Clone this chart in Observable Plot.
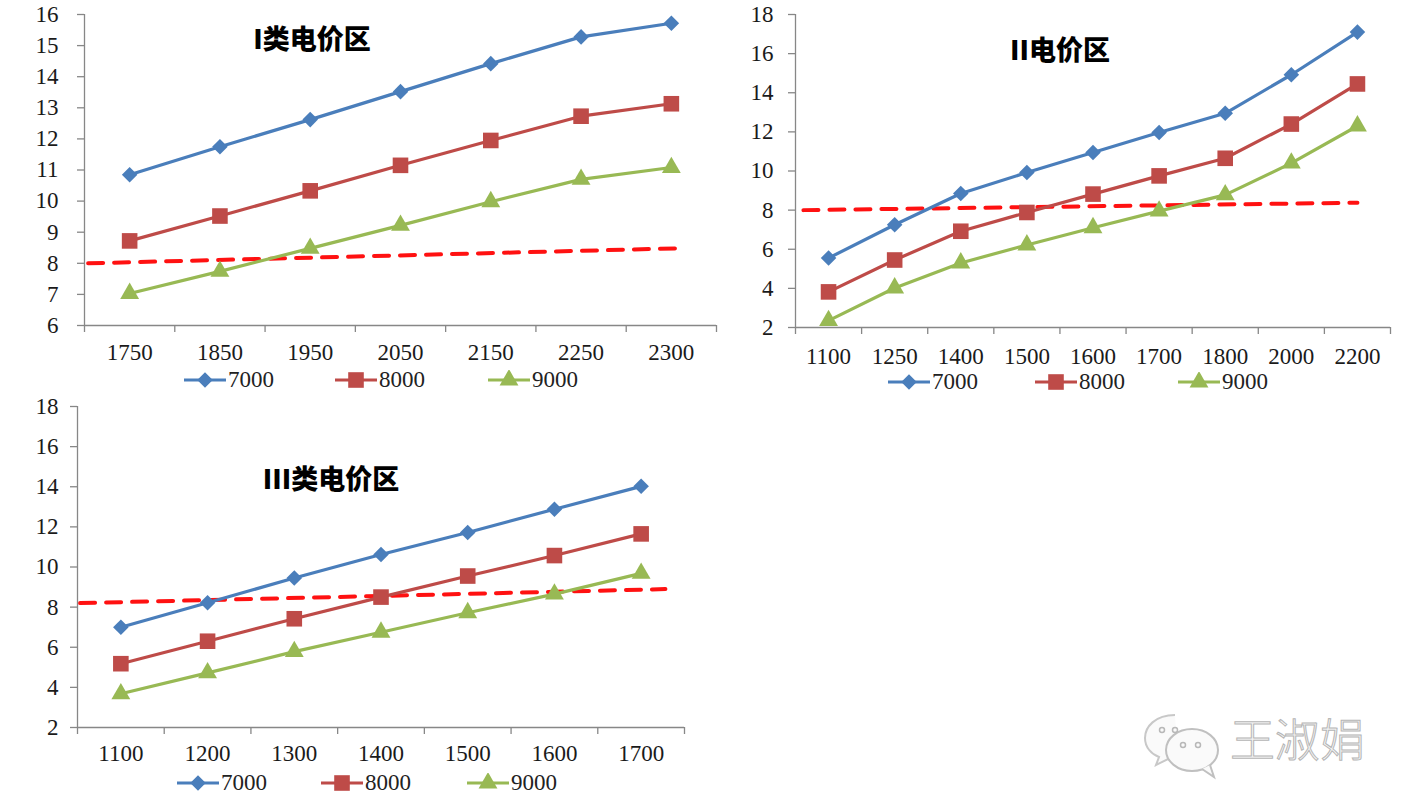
<!DOCTYPE html>
<html><head><meta charset="utf-8">
<script src="https://cdn.jsdelivr.net/npm/d3@7"></script>
<script src="https://cdn.jsdelivr.net/npm/@observablehq/plot@0.6"></script>
<style>
html,body{margin:0;padding:0;background:#fff;}
#root{position:relative;width:1411px;height:811px;overflow:hidden;background:#fff;}
.panel{position:absolute;}
.title{position:absolute;font-family:"Noto Sans CJK SC",sans-serif;font-weight:900;font-size:27px;color:#000;white-space:nowrap;transform:translate(-50%,-50%);}
.legend{position:absolute;font-family:"Liberation Serif",serif;font-size:23px;color:#222;white-space:nowrap;display:flex;align-items:center;transform:translateY(-50%);}
.wm{position:absolute;left:1140px;top:705px;}
</style></head>
<body><div id="root"></div>
<script>
// ---- data ----
const seriesNames = ["7000", "8000", "9000"];
const seriesColors = ["#4A7EBB", "#BE4B48", "#98B954"];
const seriesSymbols = ["diamond2", "square", "triangle"];
const seriesR = [7, 8.8, 7];

const c1Cats = ["1750", "1850", "1950", "2050", "2150", "2250", "2300"];
const c1S7000 = [10.85, 11.75, 12.62, 13.52, 14.42, 15.28, 15.72];
const c1S8000 = [8.72, 9.52, 10.33, 11.15, 11.95, 12.73, 13.13];
const c1S9000 = [7.03, 7.74, 8.48, 9.22, 9.98, 10.70, 11.08];
const c1RefX = [-0.46, 6.05];
const c1RefY = [8.0, 8.48];
const c1YTicks = [6, 7, 8, 9, 10, 11, 12, 13, 14, 15, 16];

const c2Cats = ["1100", "1250", "1400", "1500", "1600", "1700", "1800", "2000", "2200"];
const c2S7000 = [5.55, 7.25, 8.85, 9.92, 10.95, 11.97, 12.95, 14.92, 17.1];
const c2S8000 = [3.82, 5.45, 6.92, 7.88, 8.82, 9.75, 10.65, 12.4, 14.45];
const c2S9000 = [2.35, 4.02, 5.3, 6.22, 7.1, 7.95, 8.78, 10.4, 12.3];
const c2RefX = [-0.38, 8.0];
const c2RefY = [8.0, 8.38];
const c2YTicks = [2, 4, 6, 8, 10, 12, 14, 16, 18];

const c3Cats = ["1100", "1200", "1300", "1400", "1500", "1600", "1700"];
const c3S7000 = [7.0, 8.22, 9.45, 10.62, 11.72, 12.88, 14.02];
const c3S8000 = [5.18, 6.3, 7.42, 8.5, 9.55, 10.57, 11.65];
const c3S9000 = [3.68, 4.72, 5.78, 6.75, 7.72, 8.65, 9.68];
const c3RefX = [-0.47, 6.28];
const c3RefY = [8.2, 8.9];
const c3YTicks = [2, 4, 6, 8, 10, 12, 14, 16, 18];

const titles = ["I类电价区", "II电价区", "III类电价区"];
const watermark = "王淑娟";

// ---- drawing ----
const root = document.getElementById("root");
const axisGray = "#878787";

function makeChart(cfg) {
  const n = cfg.cats.length;
  const rows = [];
  [cfg.s7000, cfg.s8000, cfg.s9000].forEach((arr, k) => {
    arr.forEach((v, i) => rows.push({i, v, s: seriesNames[k]}));
  });
  const ref = cfg.refX.map((x, j) => ({x, y: cfg.refY[j]}));
  const bounds = d3.range(n + 1).map(i => i - 0.5);
  const yMin = cfg.yTicks[0], yMax = cfg.yTicks[cfg.yTicks.length - 1];
  const dots = seriesNames.map((name, k) => Plot.dot(rows.filter(d => d.s === name), {
    x: "i", y: "v", symbol: () => seriesSymbols[k], r: seriesR[k],
    fill: seriesColors[k], stroke: "none"
  }));
  const svg = Plot.plot({
    width: cfg.width, height: cfg.height,
    marginLeft: cfg.mL, marginRight: cfg.mR, marginTop: cfg.mT, marginBottom: cfg.mB,
    style: {fontFamily: "'Liberation Serif', serif", fontSize: "23px", color: "#1a1a1a", background: "transparent", overflow: "visible"},
    x: {type: "linear", domain: [-0.5, n - 0.5], axis: null},
    y: {domain: [yMin, yMax], axis: null},
    symbol: {type: "identity"},
    marks: [
      Plot.axisY(cfg.yTicks, {anchor: "left", tickSize: 7, tickPadding: cfg.yPad, stroke: axisGray, strokeWidth: 1.3}),
      Plot.axisX(bounds, {anchor: "bottom", tickSize: 7, tickFormat: () => "", stroke: axisGray, strokeWidth: 1.3}),
      Plot.axisX(d3.range(n), {anchor: "bottom", tickSize: 0, tickPadding: cfg.xPad, tickFormat: i => cfg.cats[i]}),
      Plot.ruleX([-0.5], {stroke: axisGray, strokeWidth: 1.3}),
      Plot.ruleY([yMin], {stroke: axisGray, strokeWidth: 1.3}),
      Plot.line(ref, {x: "x", y: "y", stroke: "#FF1111", strokeWidth: 4, strokeDasharray: "15,11"}),
      Plot.line(rows, {x: "i", y: "v", z: "s", stroke: d => seriesColors[seriesNames.indexOf(d.s)], strokeWidth: 3.2}),
      ...dots
    ]
  });
  const div = document.createElement("div");
  div.className = "panel";
  div.style.left = cfg.left + "px";
  div.style.top = cfg.top + "px";
  div.appendChild(svg);
  root.appendChild(div);

  const t = document.createElement("div");
  t.className = "title";
  t.textContent = cfg.title;
  t.style.left = cfg.titleX + "px";
  t.style.top = cfg.titleY + "px";
  root.appendChild(t);

  seriesNames.forEach((name, k) => {
    const lg = document.createElement("div");
    lg.className = "legend";
    lg.style.left = cfg.legX[k] + "px";
    lg.style.top = cfg.legY + "px";
    const sym = d3.create("svg").attr("width", 42).attr("height", 20);
    sym.append("line").attr("x1", 0).attr("x2", 42).attr("y1", 10).attr("y2", 10)
      .attr("stroke", seriesColors[k]).attr("stroke-width", 3.2);
    const symType = [d3.symbolDiamond2, d3.symbolSquare, d3.symbolTriangle][k];
    sym.append("path").attr("transform", "translate(21,10)")
      .attr("d", d3.symbol(symType, Math.PI * seriesR[k] * seriesR[k])())
      .attr("fill", seriesColors[k]);
    lg.appendChild(sym.node());
    const sp = document.createElement("span");
    sp.textContent = name;
    sp.style.marginLeft = "2px";
    lg.appendChild(sp);
    root.appendChild(lg);
  });
}

makeChart({left: 0, top: 0, width: 730, height: 380, mL: 84, mR: 14, mT: 14, mB: 55,
  cats: c1Cats, s7000: c1S7000, s8000: c1S8000, s9000: c1S9000, refX: c1RefX, refY: c1RefY,
  yTicks: c1YTicks, yPad: 19, xPad: 18, title: titles[0], titleX: 312, titleY: 37,
  legX: [184, 335, 488], legY: 380});

makeChart({left: 740, top: 0, width: 670, height: 380, mL: 55, mR: 20, mT: 14, mB: 53,
  cats: c2Cats, s7000: c2S7000, s8000: c2S8000, s9000: c2S9000, refX: c2RefX, refY: c2RefY,
  yTicks: c2YTicks, yPad: 15, xPad: 20, title: titles[1], titleX: 1060, titleY: 48,
  legX: [888, 1035, 1178], legY: 382});

makeChart({left: 0, top: 390, width: 730, height: 380, mL: 77, mR: 46, mT: 16, mB: 43,
  cats: c3Cats, s7000: c3S7000, s8000: c3S8000, s9000: c3S9000, refX: c3RefX, refY: c3RefY,
  yTicks: c3YTicks, yPad: 12, xPad: 17, title: titles[2], titleX: 331, titleY: 477,
  legX: [177, 321, 467], legY: 783});

// watermark
const wm = d3.create("svg").attr("width", 240).attr("height", 75);
wm.append("path").attr("d", "M35,10 C15,10 5,22 5,33 C5,42 11,49 19,52 L16,60 L28,54 C31,55 35,55 38,55")
  .attr("fill", "#fafafa").attr("stroke", "#c8c8c8").attr("stroke-width", 2);
wm.append("ellipse").attr("cx", 52).attr("cy", 45).attr("rx", 26).attr("ry", 21)
  .attr("fill", "#fafafa").attr("stroke", "#c0c0c0").attr("stroke-width", 2);
wm.append("path").attr("d", "M62,64 L74,72 L70,60").attr("fill", "#fafafa").attr("stroke", "#c0c0c0").attr("stroke-width", 2);
[[22, 25], [35, 25], [43, 40], [58, 40]].forEach(([x, y]) =>
  wm.append("circle").attr("cx", x).attr("cy", y).attr("r", 2.5).attr("fill", "none").attr("stroke", "#b8b8b8").attr("stroke-width", 1.5));
wm.append("text").attr("x", 90).attr("y", 52).text(watermark)
  .attr("font-family", "Noto Sans CJK SC, sans-serif").attr("font-size", 45).attr("font-weight", 300)
  .attr("fill", "#f6f6f6").attr("stroke", "#b5b5b5").attr("stroke-width", 1);
const wmDiv = document.createElement("div");
wmDiv.className = "wm";
wmDiv.appendChild(wm.node());
root.appendChild(wmDiv);
</script>
</body></html>
